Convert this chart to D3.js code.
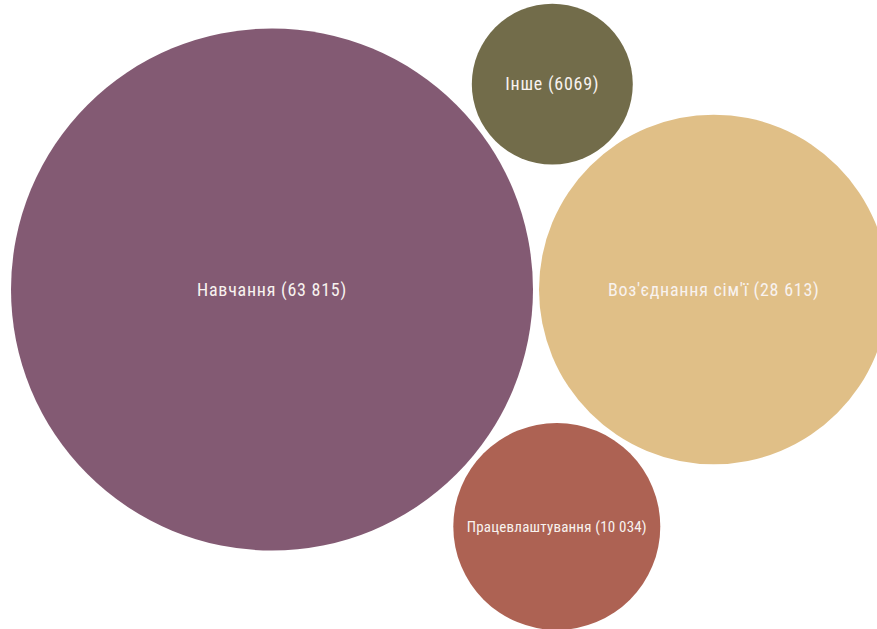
<!DOCTYPE html>
<html>
<head>
<meta charset="utf-8">
<script src="https://cdn.jsdelivr.net/npm/d3@7"></script>
<style>
  body { margin: 0; background: #fff; }
  text { font-family: "Roboto Condensed", "Liberation Sans Narrow", Roboto, sans-serif; fill: #f8f2ef; }
</style>
</head>
<body>
<div id="chart-area"></div>
<script>
// дані
const categories = ["Навчання", "Воз'єднання сім'ї", "Інше", "Працевлаштування"]
const values = [63815, 28613, 6069, 10034]
const colors = ["#835a73", "#e0bf87", "#726c4a", "#ad6253"]
const fontSizes = [18, 18, 18, 15]

const WIDTH = 877
const HEIGHT = 629
const PAD = 6

const svg = d3.select("#chart-area").append("svg")
  .attr("width", WIDTH)
  .attr("height", HEIGHT)

// радіус пропорційний кореню значення
const r = d3.scaleSqrt()
  .domain([0, d3.max(values)])
  .range([0, 261])

const nodes = categories.map((c, i) => ({ name: c, value: values[i], color: colors[i], fs: fontSizes[i], r: r(values[i]) }))

// велике коло зліва, друге поруч, малі кола торкаються обох
const big = nodes[0], fam = nodes[1]
big.x = 11 + big.r
big.y = HEIGHT / 2 - 25
fam.x = big.x + big.r + fam.r + PAD
fam.y = big.y

function touchBoth(n, side) {
  const d1 = big.r + n.r + PAD
  const d2 = fam.r + n.r + PAD
  const D = fam.x - big.x
  const a = (d1 * d1 - d2 * d2 + D * D) / (2 * D)
  const h = Math.sqrt(d1 * d1 - a * a)
  n.x = big.x + a
  n.y = big.y + side * h
}
touchBoth(nodes[2], -1)
touchBoth(nodes[3], 1)

const g = svg.selectAll("g.bubble")
  .data(nodes)
  .enter().append("g")
  .attr("class", "bubble")
  .attr("transform", d => `translate(${d.x}, ${d.y})`)

g.append("circle")
  .attr("r", d => d.r)
  .attr("fill", d => d.color)

g.append("text")
  .attr("text-anchor", "middle")
  .attr("dy", "0.35em")
  .attr("font-size", d => d.fs + "px")
  .attr("letter-spacing", d => d.fs > 16 ? "0.75px" : "0.2px")
  .text(d => `${d.name} (${d.value >= 10000 ? d3.format(",")(d.value).replace(",", " ") : d.value})`)
</script>
</body>
</html>
